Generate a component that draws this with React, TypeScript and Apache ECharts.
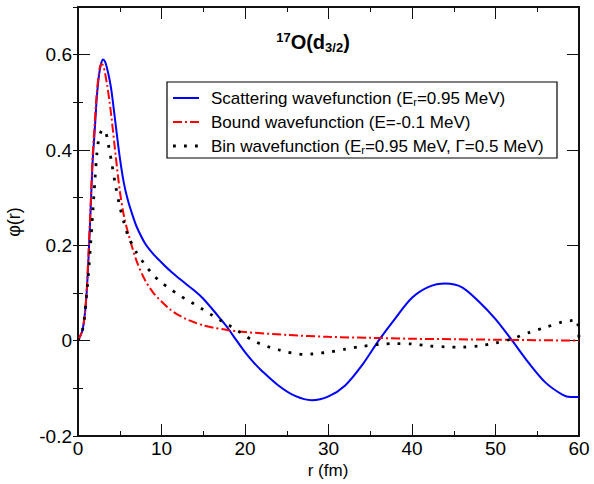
import React, { useEffect, useRef } from "react";
import * as echarts from "echarts";

const FONT = "'Liberation Sans', Arial, Helvetica, sans-serif";

// x tick labels / axis ranges
const xTicks = [0, 10, 20, 30, 40, 50, 60];
const yTicks = [-0.2, 0, 0.2, 0.4, 0.6];

// Scattering wavefunction (blue, solid)
const rScatter = [0, 0.5, 0.75, 1, 1.25, 1.5, 1.75, 2, 2.25, 2.5, 2.75, 3, 3.25, 3.5, 3.75, 4, 4.5, 5, 5.5, 6, 6.5, 7, 8, 9, 10, 11, 12, 13, 14, 15, 16, 17, 18, 19, 20, 21, 22, 24, 26, 28, 30, 32, 34, 36, 38, 40, 42, 44, 46, 48, 50, 52, 54, 56, 58, 59, 60];
const phiScatter = [0, 0.02, 0.045, 0.09, 0.17, 0.27, 0.375, 0.44, 0.51, 0.555, 0.58, 0.59, 0.585, 0.57, 0.55, 0.525, 0.455, 0.385, 0.33, 0.293, 0.265, 0.24, 0.205, 0.182, 0.164, 0.147, 0.132, 0.118, 0.104, 0.088, 0.068, 0.047, 0.025, 0.0, -0.024, -0.045, -0.063, -0.094, -0.116, -0.125, -0.117, -0.094, -0.052, 0.0, 0.047, 0.09, 0.113, 0.12, 0.112, 0.082, 0.045, 0.0, -0.047, -0.088, -0.113, -0.118, -0.118];

// Bound wavefunction (red, dash-dot)
const rBound = [0, 0.5, 0.75, 1, 1.25, 1.5, 1.75, 2, 2.25, 2.5, 2.75, 3, 3.25, 3.5, 3.75, 4, 4.5, 5, 5.5, 6, 7, 8, 9, 10, 11, 12, 13, 14, 15, 16, 18, 20, 25, 30, 35, 40, 45, 50, 55, 60];
const phiBound = [0, 0.02, 0.045, 0.095, 0.18, 0.28, 0.385, 0.455, 0.52, 0.56, 0.58, 0.578, 0.56, 0.535, 0.505, 0.47, 0.39, 0.315, 0.262, 0.226, 0.168, 0.128, 0.101, 0.082, 0.066, 0.054, 0.045, 0.038, 0.032, 0.028, 0.022, 0.018, 0.012, 0.008, 0.006, 0.004, 0.003, 0.002, 0.001, 0.0];

// Bin wavefunction (black, dotted)
const rBin = [0, 0.5, 0.75, 1, 1.25, 1.5, 1.75, 2, 2.25, 2.5, 2.75, 3, 3.25, 3.5, 3.75, 4, 4.5, 5, 5.5, 6, 7, 8, 9, 10, 11, 12, 13, 14, 15, 16, 17, 18, 19, 20, 21, 22, 23, 24, 25, 26, 27, 28, 29, 30, 32, 34, 36, 38, 40, 42, 44, 46, 48, 50, 52, 54, 56, 58, 59, 59.7, 60];
const phiBin = [0, 0.02, 0.045, 0.09, 0.14, 0.2, 0.265, 0.33, 0.39, 0.425, 0.438, 0.443, 0.44, 0.425, 0.4, 0.377, 0.325, 0.282, 0.248, 0.22, 0.185, 0.16, 0.138, 0.122, 0.109, 0.097, 0.086, 0.076, 0.065, 0.054, 0.043, 0.033, 0.0225, 0.0105, 0.0, -0.008, -0.014, -0.019, -0.024, -0.027, -0.029, -0.028, -0.026, -0.0245, -0.018, -0.012, -0.008, -0.006, -0.007, -0.011, -0.013, -0.0135, -0.011, -0.005, 0.004, 0.017, 0.028, 0.039, 0.042, 0.044, 0.003];

const zip = (xs: number[], ys: number[]) => xs.map((x, i) => [x, ys[i]]);

const BLUE = "#0000ff";
const RED = "#ff0000";
const BLACK = "#000000";
const RED_DASH = [9, 3, 2, 3];
const DOT_DASH = [2.8, 8.2];

export default function App() {
  const ref = useRef<HTMLDivElement>(null);

  useEffect(() => {
    document.body.style.margin = "0";
    document.body.style.overflow = "hidden";
    if (!ref.current) return;
    const chart = echarts.init(ref.current, undefined, { renderer: "svg" });

    const xMin = xTicks[0];
    const xMax = xTicks[xTicks.length - 1];
    const yMin = yTicks[0];
    const yMax = 0.7;

    const axisLineStyle = { color: "#111", width: 2 };
    const tickStyle = { color: "#111", width: 1 };

    const baseX = {
      type: "value",
      min: xMin,
      max: xMax,
      interval: 10,
      splitLine: { show: false },
      axisLine: { show: true, onZero: false, lineStyle: axisLineStyle },
      axisTick: { show: true, inside: true, length: 12, lineStyle: tickStyle },
      minorTick: { show: true, splitNumber: 2, length: 5, lineStyle: tickStyle },
    };

    const yMajor = {
      type: "value",
      min: yMin,
      max: yMax,
      interval: 0.2,
      splitLine: { show: false },
      axisLine: { show: true, onZero: false, lineStyle: axisLineStyle },
      axisTick: { show: true, inside: true, length: 12, lineStyle: tickStyle },
    };
    const yMinor = {
      type: "value",
      min: yMin,
      max: yMax,
      interval: 0.1,
      splitLine: { show: false },
      axisLine: { show: false },
      axisTick: { show: true, inside: true, length: 5, lineStyle: tickStyle },
      axisLabel: { show: false },
    };

    const legendRows = [
      { y: 98, color: BLUE, dash: null as any, width: 2, text: "Scattering wavefunction (E{sub|r}=0.95 MeV)" },
      { y: 122, color: RED, dash: RED_DASH, width: 2, text: "Bound wavefunction (E=-0.1 MeV)" },
      { y: 146, color: BLACK, dash: DOT_DASH, width: 2.8, text: "Bin wavefunction (E{sub|r}=0.95 MeV, \u0393=0.5 MeV)" },
    ];

    const legendFont = 17;
    const legendRich = {
      sub: { fontSize: 11, fontFamily: FONT, color: "#000", padding: [8, 0, 0, 0] },
    };

    const graphic: any[] = [
      {
        type: "rect",
        shape: { x: 167, y: 82, width: 390, height: 76 },
        style: { fill: "#fff", stroke: "#000", lineWidth: 1.2 },
        z: 10,
      },
      ...legendRows.map((r) => ({
        type: "line",
        shape: { x1: 173, y1: r.y, x2: 199, y2: r.y },
        style: { stroke: r.color, lineWidth: r.width, lineDash: r.dash || undefined },
        z: 11,
      })),
      ...legendRows.map((r) => ({
        type: "text",
        x: 211,
        y: r.y,
        style: {
          text: r.text,
          fontSize: legendFont,
          fontFamily: FONT,
          fill: "#000",
          align: "left",
          verticalAlign: "middle",
          rich: legendRich,
        },
        z: 11,
      })),
      {
        type: "text",
        x: 313,
        y: 42,
        style: {
          text: "{sup|17}{main|O(d}{sub|3/2}{main|)}",
          align: "center",
          verticalAlign: "middle",
          fill: "#000",
          rich: {
            main: { fontSize: 20, fontWeight: "bold", fontFamily: FONT, color: "#000" },
            sup: { fontSize: 13, fontWeight: "bold", fontFamily: FONT, color: "#000", padding: [0, 0, 10, 0] },
            sub: { fontSize: 13, fontWeight: "bold", fontFamily: FONT, color: "#000", padding: [10, 0, 0, 0] },
          },
        },
        z: 11,
      },
      {
        type: "text",
        x: 14,
        y: 222,
        rotation: Math.PI / 2,
        style: {
          text: "\u03c6(r)",
          fontSize: 18,
          fontFamily: FONT,
          fill: "#000",
          align: "center",
          verticalAlign: "middle",
        },
      },
      {
        type: "text",
        x: 328,
        y: 470,
        style: {
          text: "r (fm)",
          fontSize: 17,
          fontFamily: FONT,
          fill: "#000",
          align: "center",
          verticalAlign: "middle",
        },
      },
    ];

    chart.setOption({
      animation: false,
      backgroundColor: "#fff",
      grid: { left: 78, right: 15, top: 7, bottom: 48, containLabel: false },
      xAxis: [
        {
          ...baseX,
          position: "bottom",
          axisLabel: { show: true, fontSize: 19, fontFamily: FONT, color: "#000", margin: 3 },
        },
        { ...baseX, position: "top", axisLabel: { show: false } },
      ],
      yAxis: [
        {
          ...yMajor,
          position: "left",
          axisLabel: {
            show: true,
            fontSize: 19,
            fontFamily: FONT,
            color: "#000",
            margin: 6,
            showMaxLabel: false,
            formatter: (v: number) => {
              if (Math.abs(v) < 1e-9) return "0";
              if (Math.abs(v - 0.7) < 1e-6) return "";
              return v.toFixed(1);
            },
          },
        },
        { ...yMinor, position: "left" },
        { ...yMajor, position: "right", axisLabel: { show: false } },
        { ...yMinor, position: "right" },
      ],
      series: [
        {
          name: "Scattering",
          type: "line",
          xAxisIndex: 0,
          yAxisIndex: 0,
          data: zip(rScatter, phiScatter),
          showSymbol: false,
          smooth: 0.3,
          lineStyle: { color: BLUE, width: 2 },
          z: 3,
        },
        {
          name: "Bound",
          type: "line",
          xAxisIndex: 0,
          yAxisIndex: 0,
          data: zip(rBound, phiBound),
          showSymbol: false,
          smooth: 0.3,
          lineStyle: { color: RED, width: 2, type: RED_DASH },
          z: 4,
        },
        {
          name: "Bin",
          type: "line",
          xAxisIndex: 0,
          yAxisIndex: 0,
          data: zip(rBin, phiBin),
          showSymbol: false,
          smooth: 0.3,
          lineStyle: { color: BLACK, width: 2.8, type: DOT_DASH, cap: "butt" },
          z: 5,
        },
      ],
      graphic,
    } as any);

    return () => chart.dispose();
  }, []);

  return <div ref={ref} style={{ width: 594, height: 484 }} />;
}
